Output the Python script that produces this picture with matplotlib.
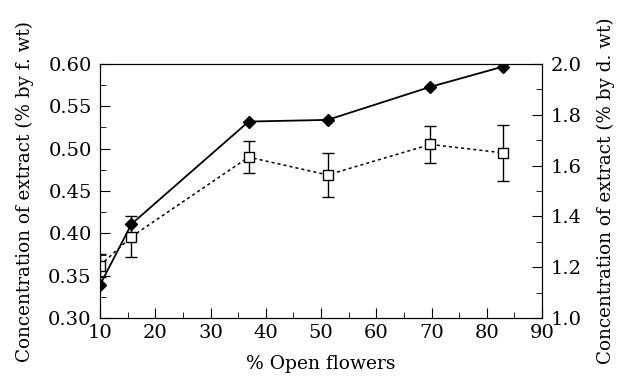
import numpy as np
import matplotlib.pyplot as plt
from matplotlib.ticker import MultipleLocator

# % open flowers
x = [10, 15.7, 36.9, 51.2, 69.8, 83.0]
# fresh weight basis (left axis), filled diamonds
fresh = [0.339, 0.411, 0.532, 0.534, 0.573, 0.597]
# dry weight basis plotted against left scale, open squares with error bars
dry = [0.362, 0.396, 0.490, 0.469, 0.505, 0.495]
dry_err = [0.014, 0.024, 0.019, 0.026, 0.022, 0.033]

plt.rcParams['font.family'] = ['DejaVu Serif']
plt.rcParams['font.size'] = 13

fig = plt.figure(figsize=(6.17, 3.77), dpi=100)
ax = fig.add_axes([100 / 617, (377 - 318) / 377, 442 / 617, 254 / 377])

ax.errorbar(x, dry, yerr=dry_err, color='black', ls=(0, (2, 2)), lw=1.1,
            marker='s', mfc='white', mec='black', ms=7, mew=1,
            capsize=4, elinewidth=1, capthick=1, zorder=2)
ax.plot(x, fresh, color='black', lw=1.3, marker='D', ms=6, zorder=3)

ax.set_xlim(10, 90)
ax.set_ylim(0.30, 0.60)
ax.xaxis.set_major_locator(MultipleLocator(10))
ax.xaxis.set_minor_locator(MultipleLocator(5))
ax.yaxis.set_major_locator(MultipleLocator(0.05))
ax.yaxis.set_minor_locator(MultipleLocator(0.025))
ax.yaxis.set_major_formatter(plt.FormatStrFormatter('%.2f'))
ax.tick_params(which='both', direction='in', top=False, right=False, labelsize=14)
ax.tick_params(which='major', length=7)
ax.tick_params(which='minor', length=4)
ax.tick_params(axis='y', pad=6)
ax.tick_params(axis='x', pad=4)
ax.set_xlabel('% Open flowers', fontsize=13.5, labelpad=10)
ax.set_ylabel('Concentration of extract (% by f. wt)', fontsize=13.2, labelpad=10)

ax2 = ax.twinx()
ax2.set_ylim(1.0, 2.0)
ax2.yaxis.set_major_locator(MultipleLocator(0.2))
ax2.yaxis.set_minor_locator(MultipleLocator(0.1))
ax2.yaxis.set_major_formatter(plt.FormatStrFormatter('%.1f'))
ax2.tick_params(which='both', direction='in', labelsize=14, pad=6)
ax2.tick_params(which='major', length=7)
ax2.tick_params(which='minor', length=4)
ax2.set_ylabel('Concentration of extract (% by d. wt)', fontsize=13.2, labelpad=11)

fig.savefig('out.png', dpi=100)
